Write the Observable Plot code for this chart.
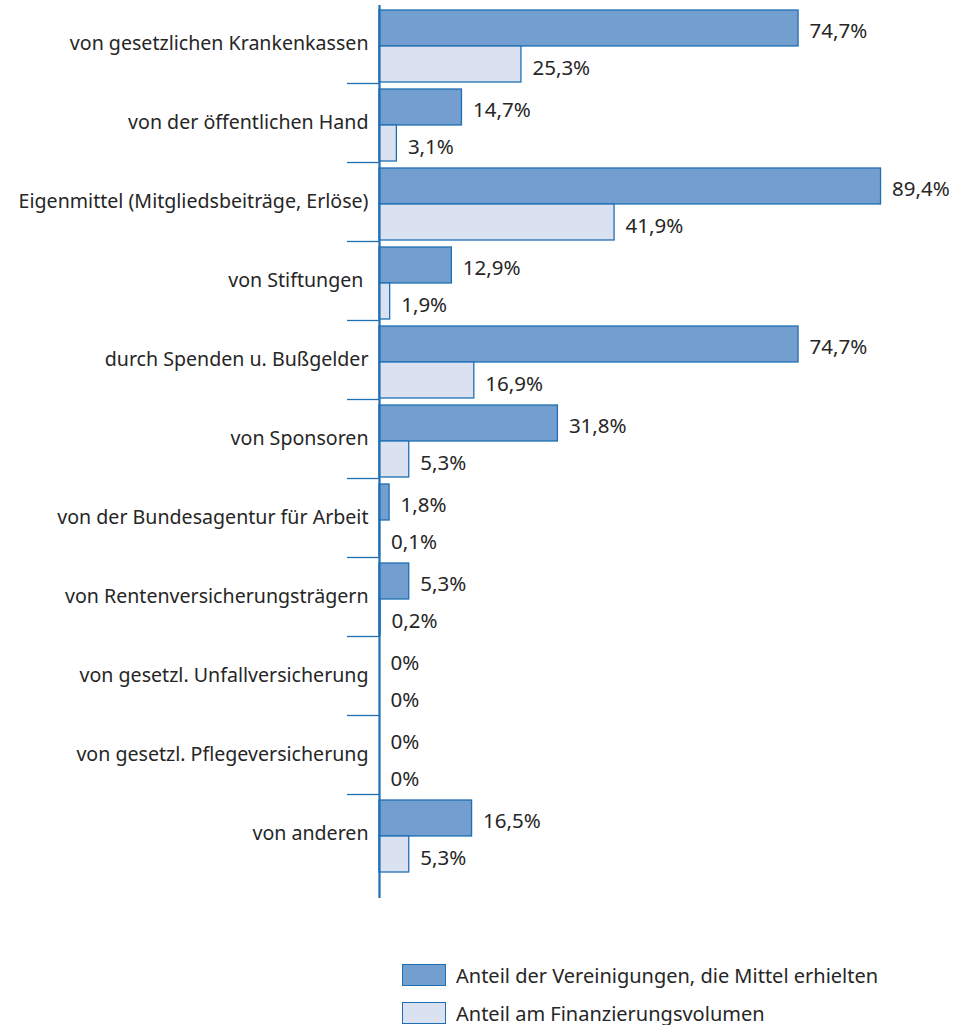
<!DOCTYPE html>
<html><head><meta charset="utf-8">
<script src="https://cdn.jsdelivr.net/npm/d3@7"></script>
<script src="https://cdn.jsdelivr.net/npm/@observablehq/plot@0.6"></script>
<style>
body{margin:0;background:#fff;font-family:"Noto Sans",sans-serif;color:#262626;}
#legend{margin-left:402px;margin-top:64px;font-size:20px;}
.item{display:flex;align-items:center;height:22px;margin-bottom:16px;}
.sw{width:42px;height:20px;border:1px solid #1f6fb4;margin-right:10px;}
</style></head>
<body>
<div id="chart"></div>
<div id="legend"></div>
<script>
const categories = [
  "von gesetzlichen Krankenkassen",
  "von der öffentlichen Hand",
  "Eigenmittel (Mitgliedsbeiträge, Erlöse)",
  "von Stiftungen\u00a0",
  "durch Spenden u. Bußgelder",
  "von Sponsoren",
  "von der Bundesagentur für Arbeit",
  "von Rentenversicherungsträgern",
  "von gesetzl. Unfallversicherung",
  "von gesetzl. Pflegeversicherung",
  "von anderen"
];
const anteilVereinigungen = [74.7, 14.7, 89.4, 12.9, 74.7, 31.8, 1.8, 5.3, 0, 0, 16.5];
const anteilVolumen = [25.3, 3.1, 41.9, 1.9, 16.9, 5.3, 0.1, 0.2, 0, 0, 5.3];
const seriesNames = ["Anteil der Vereinigungen, die Mittel erhielten", "Anteil am Finanzierungsvolumen"];
const fills = ["#729fcf", "#dae1f0"];
const strokeCol = "#1f6fb4";

const dark = categories.map((c, i) => ({cat: c, v: anteilVereinigungen[i]}));
const light = categories.map((c, i) => ({cat: c, v: anteilVolumen[i]}));
const fmt = v => (v === 0 ? "0" : v.toFixed(1).replace(".", ",")) + "%";

const chart = Plot.plot({
  width: 973,
  height: 900,
  marginLeft: 379,
  marginRight: 33,
  marginTop: 5,
  marginBottom: 2,
  style: {fontFamily: "Noto Sans", fontSize: "20px", color: "#262626", background: "#fff"},
  x: {domain: [0, 100], axis: null},
  y: {domain: categories, range: [4, 873], padding: 0, label: null, tickSize: 0, tickPadding: 11},
  marks: [
    Plot.barX(dark, {x: "v", y: "cat", fill: fills[0], stroke: strokeCol, strokeWidth: 1.3, insetTop: 6, insetBottom: 37}),
    Plot.barX(light, {x: "v", y: "cat", fill: fills[1], stroke: strokeCol, strokeWidth: 1.3, insetTop: 42, insetBottom: 1}),
    Plot.text(dark, {x: "v", y: "cat", text: d => fmt(d.v), textAnchor: "start", dx: 11, dy: -13, fill: "#262626", fontSize: 20.5}),
    Plot.text(light, {x: "v", y: "cat", text: d => fmt(d.v), textAnchor: "start", dx: 11, dy: 24, fill: "#262626", fontSize: 20.5}),
    Plot.ruleY(categories.slice(0, -1), {y: d => d, dy: 39.5, x1: -5.7, x2: 0, stroke: strokeCol, strokeWidth: 1.3}),
    Plot.ruleX([0], {stroke: strokeCol, strokeWidth: 2.2}),
    Plot.axisY({tickSize: 0, tickPadding: 11, fontSize: 19.6, fill: "#262626", label: null})
  ]
});
document.getElementById("chart").appendChild(chart);

const legend = document.getElementById("legend");
seriesNames.forEach((n, i) => {
  const it = document.createElement("div");
  it.className = "item";
  const sw = document.createElement("div");
  sw.className = "sw";
  sw.style.background = fills[i];
  const t = document.createElement("span");
  t.textContent = n;
  it.appendChild(sw); it.appendChild(t);
  legend.appendChild(it);
});
</script>
</body></html>
